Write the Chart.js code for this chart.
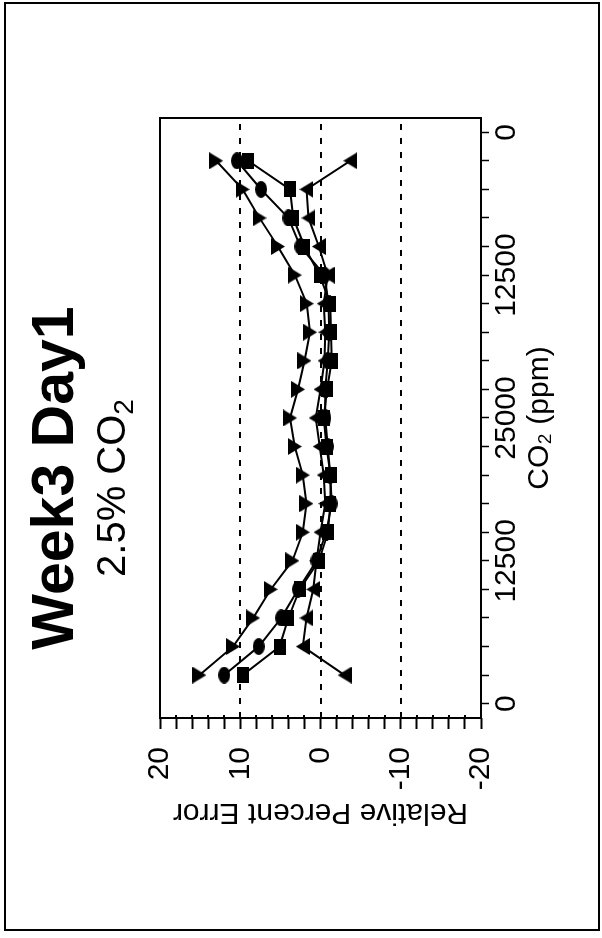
<!DOCTYPE html>
<html>
<head>
<meta charset="utf-8">
<script src="https://cdn.jsdelivr.net/npm/chart.js@4.4.1/dist/chart.umd.min.js"></script>
<style>
  html, body { margin: 0; padding: 0; background: #fff; overflow: hidden; }
  /* the figure is laid out landscape and turned a quarter turn counter-clockwise */
  #page {
    position: absolute; left: 0; top: 0;
    width: 938px; height: 602px;
    transform-origin: 0 0;
    transform: translate(0, 938px) rotate(-90deg);
    font-family: "Liberation Sans", Arial, sans-serif;
    color: #000;
  }
  #page canvas { position: absolute; left: 0; top: 0; }
  .heading { position: absolute; left: 0; text-align: center; white-space: nowrap; }
  #title { top: 24px; width: 920px; font-size: 59px; font-weight: bold; line-height: 59px; }
  #subtitle { top: 91px; width: 900px; font-size: 40px; line-height: 40px; }
  #subtitle sub { font-size: 0.7em; vertical-align: -0.3em; line-height: 0; }
</style>
</head>
<body>
<div id="page">
  <canvas id="chart" width="938" height="602"></canvas>
  <div class="heading" id="title">Week3 Day1</div>
  <div class="heading" id="subtitle">2.5% CO<sub>2</sub></div>
</div>
<script>
// CO2 set points, stepping up to 25000 ppm and back down
const co2Ppm = [2500, 5000, 7500, 10000, 12500, 15000, 17500, 20000, 22500, 25000,
                22500, 20000, 17500, 15000, 12500, 10000, 7500, 5000, 2500];

// relative percent error per sensor
const errTriDown = [15.1, 10.9, 8.4, 6.2, 3.5, 2.2, 1.75, 2.2, 3.2, 3.8,
                    2.8, 2.0, 1.3, 1.7, 3.2, 5.3, 7.6, 9.7, 13.0];
const errCircle  = [12.0, 7.7, 4.9, 2.8, 0.5, -0.7, -1.4, -1.2, -0.9, -0.6,
                    -0.6, -0.9, -1.1, -1.0, -0.5, 2.5, 4.0, 7.4, 10.4];
const errSquare  = [9.7, 5.1, 4.0, 2.6, 0.2, -0.95, -1.2, -1.25, -0.75, -0.4,
                    -0.8, -1.4, -1.3, -1.2, 0.1, 2.0, 3.4, 3.8, 9.0];
const errTriUp   = [-3.0, 2.2, 1.75, 0.9, 0.5, 0.0, -0.6, -0.4, 0.1, 0.6,
                    0.0, -0.5, -0.6, -0.4, -0.9, 0.2, 1.5, 1.75, -3.7];

// axis ticks
const xTickSteps = [0, 1, 2, 3, 4, 5, 6, 7, 8, 9, 10, 11, 12, 13, 14, 15, 16, 17, 18, 19, 20];
const xLabelSteps = [0, 5, 10, 15, 20];
const xLabelText = ['0', '12500', '25000', '12500', '0'];
const yLabelValues = [20, 10, 0, -10, -20];
const refLines = [10, 0, -10];

const FONT = "'Liberation Sans', Arial, sans-serif";

// solid black symbols, slightly wider than tall
function makeMarker(shape, w, h) {
    const c = document.createElement('canvas');
    c.width = w;
    c.height = h;
    const g = c.getContext('2d');
    g.fillStyle = '#000';
    g.beginPath();
    if (shape === 'down') {
        g.moveTo(0, 0); g.lineTo(w, 0); g.lineTo(w / 2, h);
    } else if (shape === 'up') {
        g.moveTo(0, h); g.lineTo(w, h); g.lineTo(w / 2, 0);
    } else if (shape === 'circle') {
        g.ellipse(w / 2, h / 2, w / 2, h / 2, 0, 0, Math.PI * 2);
    } else {
        g.rect(0, 0, w, h);
    }
    g.closePath();
    g.fill();
    return c;
}

const toPoints = vals => vals.map((y, i) => ({ x: i + 1, y }));

const series = (vals, style) => ({
    data: toPoints(vals),
    borderColor: '#000',
    backgroundColor: '#000',
    borderWidth: 2,
    tension: 0,
    fill: false,
    pointStyle: style,
    pointRadius: 8
});

// dashed reference lines, plot box and the outer frame
const framePlugin = {
    id: 'frame',
    beforeDatasetsDraw(chart) {
        const { ctx, chartArea: a, scales: { y } } = chart;
        ctx.save();
        ctx.strokeStyle = '#000';
        ctx.lineWidth = 2;
        ctx.setLineDash([6, 8]);
        refLines.forEach(v => {
            const py = Math.round(y.getPixelForValue(v));
            ctx.beginPath();
            ctx.moveTo(a.left, py);
            ctx.lineTo(a.right, py);
            ctx.stroke();
        });
        ctx.restore();
    },
    afterDraw(chart) {
        const { ctx, chartArea: a, scales: { y } } = chart;
        ctx.save();
        ctx.strokeStyle = '#000';
        ctx.lineWidth = 2;
        // short inside stubs so the y ticks cross the axis
        y.ticks.forEach(t => {
            const py = Math.round(y.getPixelForValue(t.value));
            ctx.beginPath();
            ctx.moveTo(a.left, py);
            ctx.lineTo(a.left + 3, py);
            ctx.stroke();
        });
        ctx.strokeRect(a.left, a.top, a.right - a.left, a.bottom - a.top);
        ctx.strokeRect(8, 5, 927, 594);
        ctx.restore();
    }
};

new Chart(document.getElementById('chart'), {
    type: 'line',
    data: {
        datasets: [
            series(errTriDown, makeMarker('down', 17, 14)),
            series(errCircle, makeMarker('circle', 17, 12)),
            series(errSquare, makeMarker('square', 16, 12)),
            series(errTriUp, makeMarker('up', 17, 14))
        ]
    },
    options: {
        responsive: false,
        animation: false,
        events: [],
        layout: { padding: { left: 0, right: 118, top: 160, bottom: 0 } },
        plugins: { legend: { display: false }, tooltip: { enabled: false } },
        scales: {
            x: {
                type: 'linear',
                min: -0.5,
                max: 20.5,
                afterBuildTicks: s => { s.ticks = xTickSteps.map(v => ({ value: v })); },
                afterFit: s => { s.height = 121; },
                grid: { drawOnChartArea: false, drawTicks: true, tickLength: 8, tickWidth: 1.5, tickColor: '#000' },
                border: { display: false },
                ticks: {
                    padding: 0,
                    autoSkip: false,
                    maxRotation: 0,
                    color: '#000',
                    font: { family: FONT, size: 30 },
                    callback: v => {
                        const k = xLabelSteps.indexOf(v);
                        return k >= 0 ? xLabelText[k] : '';
                    }
                },
                title: {
                    display: true,
                    text: 'CO₂ (ppm)',
                    color: '#000',
                    font: { family: FONT, size: 30 },
                    padding: { top: 0, bottom: 44 }
                }
            },
            y: {
                min: -20,
                max: 20,
                afterFit: s => { s.width = 220; },
                grid: { drawOnChartArea: false, drawTicks: true, tickLength: 11, tickWidth: 2, tickColor: '#000' },
                border: { display: false },
                ticks: {
                    stepSize: 2,
                    padding: 18,
                    autoSkip: false,
                    color: '#000',
                    font: { family: FONT, size: 30 },
                    callback: v => (yLabelValues.includes(v) ? String(v) : '')
                },
                title: {
                    display: true,
                    text: 'Relative Percent Error',
                    color: '#000',
                    font: { family: FONT, size: 30 },
                    padding: { top: 108, bottom: 0 }
                }
            }
        }
    },
    plugins: [framePlugin]
});
</script>
</body>
</html>
